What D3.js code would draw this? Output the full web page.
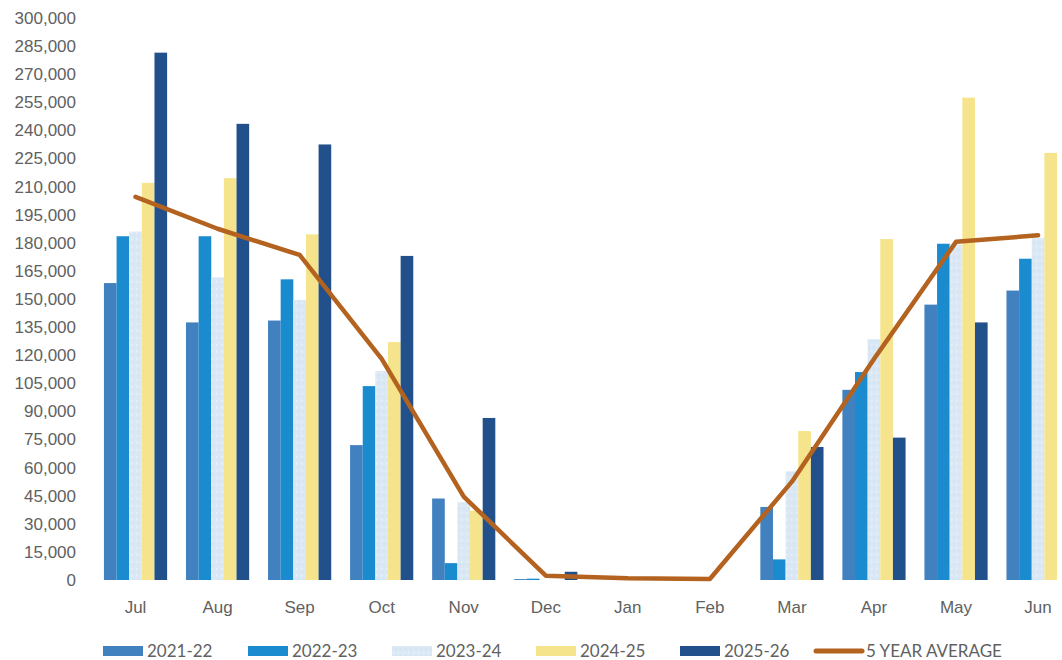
<!DOCTYPE html>
<html>
<head>
<meta charset="utf-8">
<script src="https://cdn.jsdelivr.net/npm/d3@7"></script>
<style>
  html, body { margin: 0; padding: 0; background: #ffffff; }
  svg { display: block; font-family: Lato, "Open Sans", sans-serif; }
  .tick text { fill: #616161; font-size: 17px; }
  .legend text { fill: #616161; font-size: 17px; }
</style>
</head>
<body>
<svg id="chart" width="1062" height="660"></svg>
<script>
// Months of the season, July through June
const months = ["Jul", "Aug", "Sep", "Oct", "Nov", "Dec", "Jan", "Feb", "Mar", "Apr", "May", "Jun"];

// Seasons shown as bars
const seasons = ["2021-22", "2022-23", "2023-24", "2024-25", "2025-26"];

// Monthly totals per season (null = no data)
const s2021_22 = [158500, 137500, 138500, 72000, 43500, 500, 0, 0, 39000, 101500, 147000, 154500];
const s2022_23 = [183500, 183500, 160500, 103500, 9000, 700, 0, 0, 11000, 111000, 179500, 171500];
const s2023_24 = [186000, 161500, 149500, 111500, 41500, 0, 0, 0, 58000, 128500, 179000, 182500];
const s2024_25 = [212000, 214500, 184500, 127000, 37000, 0, 0, 0, 79500, 182000, 257500, 228000];
const s2025_26 = [281500, 243500, 232500, 173000, 86500, 4400, null, null, 71000, 76000, 137500, null];

// Five-year average line
const avgLabel = "5 YEAR AVERAGE";
const avg5yr = [204500, 187500, 173500, 118000, 44500, 2300, 900, 500, 52500, 118000, 180500, 184000];

// Y axis ticks
const yTicks = d3.range(0, 300001, 15000);

const seriesValues = [s2021_22, s2022_23, s2023_24, s2024_25, s2025_26];
const colors = ["#4181c0", "#1a8bcf", "#dae8f5", "#f6e48c", "#22508a"];
const lineColor = "#b3631f";

const svg = d3.select("#chart");

const y = d3.scaleLinear().domain([0, 300000]).range([580, 18]);
const x = d3.scaleBand().domain(months).range([94.5, 1079.1])
  .paddingInner(0.23).paddingOuter(0.115);
const xs = d3.scaleBand().domain(seasons).range([0, x.bandwidth()]).padding(0);

// soft speckle texture for the pale season
const defs = svg.append("defs");
const pat = defs.append("pattern").attr("id", "speckle")
  .attr("patternUnits", "userSpaceOnUse").attr("width", 5).attr("height", 7);
pat.append("rect").attr("width", 5).attr("height", 7).attr("fill", colors[2]);
pat.append("rect").attr("x", 1).attr("y", 1).attr("width", 1.5).attr("height", 1.5).attr("fill", "#eaf2fa");
pat.append("rect").attr("x", 3).attr("y", 4).attr("width", 1.5).attr("height", 1.5).attr("fill", "#d0e2f2");

// Y axis
const yAxis = d3.axisLeft(y).tickValues(yTicks).tickFormat(d3.format(",")).tickSize(0).tickPadding(4);
svg.append("g").attr("transform", "translate(80,0)").call(yAxis)
  .call(g => g.select(".domain").remove());

// X axis
const xAxis = d3.axisBottom(x).tickSize(0).tickPadding(21);
svg.append("g").attr("transform", "translate(0,580)").call(xAxis)
  .call(g => g.select(".domain").remove());

// Bars
const barData = [];
months.forEach((m, i) => {
  seasons.forEach((s, j) => {
    const v = seriesValues[j][i];
    if (v !== null && v > 0) barData.push({ month: m, season: s, idx: j, value: v });
  });
});

svg.append("g").selectAll("rect").data(barData).join("rect")
  .attr("x", d => x(d.month) + xs(d.season))
  .attr("y", d => y(d.value))
  .attr("width", xs.bandwidth())
  .attr("height", d => y(0) - y(d.value))
  .attr("fill", d => d.idx === 2 ? "url(#speckle)" : colors[d.idx]);

// Average line
const line = d3.line()
  .x((d, i) => x(months[i]) + x.bandwidth() / 2)
  .y(d => y(d));

svg.append("path").datum(avg5yr)
  .attr("d", line)
  .attr("fill", "none")
  .attr("stroke", lineColor)
  .attr("stroke-width", 4.5)
  .attr("stroke-linejoin", "round")
  .attr("stroke-linecap", "round");

// Legend
const legendItems = [
  { label: seasons[0], x: 103, kind: "bar", idx: 0 },
  { label: seasons[1], x: 248, kind: "bar", idx: 1 },
  { label: seasons[2], x: 392, kind: "bar", idx: 2 },
  { label: seasons[3], x: 536, kind: "bar", idx: 3 },
  { label: seasons[4], x: 680, kind: "bar", idx: 4 },
  { label: avgLabel, x: 815, kind: "line" }
];
const legend = svg.append("g").attr("class", "legend");
const li = legend.selectAll("g").data(legendItems).join("g")
  .attr("transform", d => `translate(${d.x},651)`);
li.filter(d => d.kind === "bar").append("rect")
  .attr("x", 0).attr("y", -5).attr("width", 40).attr("height", 10)
  .attr("fill", d => d.idx === 2 ? "url(#speckle)" : colors[d.idx]);
li.filter(d => d.kind === "line").append("line")
  .attr("x1", 1).attr("x2", 47).attr("y1", 0).attr("y2", 0)
  .attr("stroke", lineColor).attr("stroke-width", 5).attr("stroke-linecap", "round");
li.append("text")
  .attr("x", d => d.kind === "line" ? 51 : 44)
  .attr("y", 0).attr("dy", "0.35em")
  .text(d => d.label);
</script>
</body>
</html>
